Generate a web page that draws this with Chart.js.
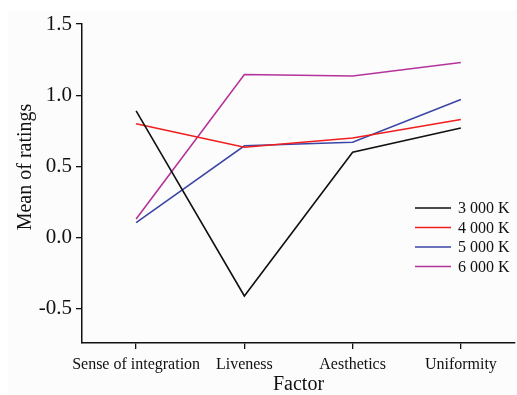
<!DOCTYPE html>
<html>
<head>
<meta charset="utf-8">
<script src="https://cdn.jsdelivr.net/npm/chart.js@4/dist/chart.umd.min.js"></script>
<style>
  html, body { margin: 0; padding: 0; background: #ffffff; }
  #wrap { width: 517px; height: 395px; position: relative; }
</style>
</head>
<body>
<div id="wrap"><canvas id="c" width="517" height="395"></canvas></div>
<script>
// Mean ratings per factor for each colour temperature
const factors = ['Sense of integration', 'Liveness', 'Aesthetics', 'Uniformity'];
const seriesNames = ['3 000 K', '4 000 K', '5 000 K', '6 000 K'];
const k3000 = [0.89, -0.41, 0.60, 0.77];
const k4000 = [0.80, 0.635, 0.70, 0.83];
const k5000 = [0.105, 0.645, 0.67, 0.97];
const k6000 = [0.13, 1.145, 1.135, 1.23];
const yTicks = [-0.5, 0.0, 0.5, 1.0, 1.5];
const seriesColors = ['#111111', '#f01e1e', '#3b47a6', '#b5339b'];

const FONT = '"Liberation Serif", "Times New Roman", serif';

const datasets = [k3000, k4000, k5000, k6000].map((vals, i) => ({
  label: seriesNames[i],
  data: vals,
  borderColor: seriesColors[i],
  backgroundColor: seriesColors[i],
  borderWidth: 1.6,
  pointRadius: 0,
  tension: 0,
  fill: false
}));

// Page backdrop, axis titles and the legend block inside the plot
const decor = {
  id: 'decor',
  beforeDraw(chart) {
    const ctx = chart.ctx;
    ctx.save();
    ctx.fillStyle = '#fcfcfc';
    ctx.fillRect(8, 10, chart.width - 8, chart.height - 10);
    ctx.restore();
  },
  afterDraw(chart) {
    const ctx = chart.ctx;
    const area = chart.chartArea;
    ctx.save();
    ctx.fillStyle = '#111';
    ctx.font = '20px ' + FONT;
    ctx.textAlign = 'center';
    ctx.textBaseline = 'middle';
    ctx.fillText('Factor', (area.left + area.right) / 2, 385);
    ctx.translate(26, 167);
    ctx.rotate(-Math.PI / 2);
    ctx.fillText('Mean of ratings', 0, 0);
    ctx.restore();

    ctx.save();
    ctx.font = '16px ' + FONT;
    ctx.textAlign = 'left';
    ctx.textBaseline = 'middle';
    const y0 = 208, dy = 19.5;
    chart.data.datasets.forEach((ds, i) => {
      const y = y0 + i * dy;
      ctx.strokeStyle = ds.borderColor;
      ctx.lineWidth = 1.6;
      ctx.beginPath();
      ctx.moveTo(415, y);
      ctx.lineTo(451, y);
      ctx.stroke();
      ctx.fillStyle = '#111';
      ctx.fillText(ds.label, 458, y + 1);
    });
    ctx.restore();
  }
};

new Chart(document.getElementById('c'), {
  type: 'line',
  data: { labels: factors, datasets },
  options: {
    responsive: false,
    animation: false,
    devicePixelRatio: 1,
    layout: { padding: { top: 24, right: 2, left: 0, bottom: 0 } },
    plugins: { legend: { display: false }, tooltip: { enabled: false } },
    scales: {
      x: {
        type: 'category',
        offset: true,
        grid: { display: true, drawOnChartArea: false, drawTicks: true, tickLength: 6, tickColor: '#111', lineWidth: 1.3 },
        border: { display: true, color: '#111', width: 1.5 },
        ticks: { color: '#111', font: { family: FONT, size: 16 }, padding: 6, maxRotation: 0, autoSkip: false },
        afterFit(scale) { scale.height = 52; }
      },
      y: {
        min: -0.74,
        max: 1.5,
        afterBuildTicks(scale) { scale.ticks = yTicks.map(v => ({ value: v })); },
        grid: { display: true, drawOnChartArea: false, drawTicks: true, tickLength: 6, tickColor: '#111', lineWidth: 1.3 },
        border: { display: true, color: '#111', width: 1.5 },
        ticks: {
          color: '#111',
          font: { family: FONT, size: 21 },
          padding: 4,
          callback: v => v.toFixed(1)
        },
        afterFit(scale) { scale.width = 82; }
      }
    }
  },
  plugins: [decor]
});
</script>
</body>
</html>
